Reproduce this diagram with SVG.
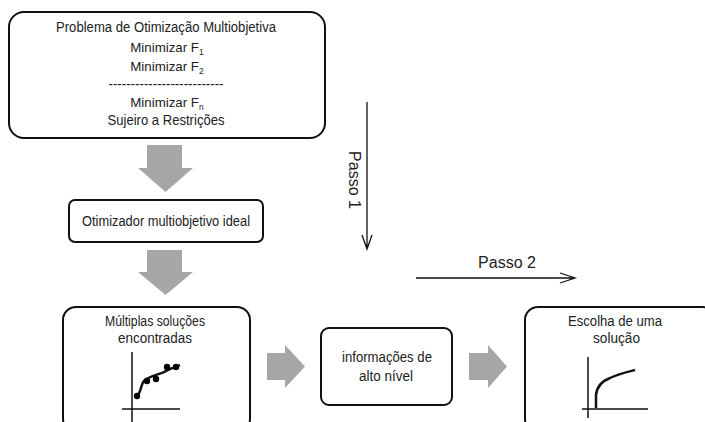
<svg xmlns="http://www.w3.org/2000/svg" width="705" height="422" viewBox="0 0 705 422">
<defs>
<style>
.box{fill:#fff;stroke:#111;stroke-width:2}
.t{font-family:"Liberation Sans",Arial,sans-serif;font-size:14px;fill:#222;text-anchor:middle}
.m{font-size:13.3px}
.big{font-size:16px}
.g{fill:#a6a6a6}
.ln{stroke:#111;stroke-width:1.3;fill:none}
.ax{stroke:#111;stroke-width:1.5;fill:none}
.cv{stroke:#111;stroke-width:2.5;fill:none}
</style>
</defs>
<rect width="705" height="422" fill="#fff"/>
<g id="problema">
<rect class="box" x="9" y="12" width="316" height="126" rx="15"/>
<text class="t" x="166" y="32" textLength="220" lengthAdjust="spacingAndGlyphs">Problema de Otimização Multiobjetiva</text>
<text class="t m" x="167" y="52">Minimizar F<tspan font-size="8.5" dy="3">1</tspan></text>
<text class="t m" x="167" y="71">Minimizar F<tspan font-size="8.5" dy="3">2</tspan></text>
<text class="t" x="166" y="89" textLength="115" lengthAdjust="spacingAndGlyphs">--------------------------</text>
<text class="t m" x="167" y="107">Minimizar F<tspan font-size="8.5" dy="3">n</tspan></text>
<text class="t" x="166" y="125" textLength="117" lengthAdjust="spacingAndGlyphs">Sujeiro a Restrições</text>
</g>
<g id="otimizador">
<rect class="box" x="69" y="200" width="194" height="42" rx="6"/>
<text class="t" x="166" y="226" textLength="168" lengthAdjust="spacingAndGlyphs">Otimizador multiobjetivo ideal</text>
</g>
<g id="multiplas">
<rect class="box" x="63" y="307" width="187" height="125" rx="13"/>
<text class="t" x="155" y="326" textLength="100" lengthAdjust="spacingAndGlyphs">Múltiplas soluções</text>
<text class="t" x="155" y="343" textLength="74" lengthAdjust="spacingAndGlyphs">encontradas</text>
<path class="ax" d="M132 352V422M122 409H180"/>
<path class="cv" d="M137 396C141 393 141 384 144 381C150 375 160 375 166 371C171 368 176 367 180 365"/>
<circle cx="137" cy="396" r="3.2"/>
<circle cx="147" cy="381" r="3.2"/>
<circle cx="156" cy="379" r="3.2"/>
<circle cx="167" cy="367" r="3.2"/>
<circle cx="176" cy="367" r="3.2"/>
</g>
<g id="informacoes">
<rect class="box" x="321" y="328" width="131" height="77" rx="8"/>
<text class="t" x="387" y="362" textLength="90" lengthAdjust="spacingAndGlyphs">informações de</text>
<text class="t" x="386" y="381" textLength="54" lengthAdjust="spacingAndGlyphs">alto nível</text>
</g>
<g id="escolha">
<rect class="box" x="525" y="307" width="190" height="125" rx="13"/>
<text class="t" x="615" y="326" textLength="94" lengthAdjust="spacingAndGlyphs">Escolha de uma</text>
<text class="t" x="616.5" y="343" textLength="47" lengthAdjust="spacingAndGlyphs">solução</text>
<path class="ax" d="M588 357V418M582 409H648"/>
<path class="cv" d="M596 408V395C597 386 602 381 610 378C618 374 627 372 635 370"/>
</g>
<g id="connectors">
<path class="g" d="M147 145H182V168H193L165.5 192L138 168H147Z"/>
<path class="g" d="M147 250H182V272H193L165.5 295L138 272H147Z"/>
<path class="g" d="M267 353H285V345L305 366.5L285 388V380H267Z"/>
<path class="g" d="M469 353H488V345L507 366.5L488 388V380H469Z"/>
<path class="ln" d="M367 102V249M362 235L367 249L372 235"/>
<path class="ln" d="M416 278H575M560 273L575 278L560 283"/>
<text class="t big" transform="translate(349 180) rotate(90)">Passo 1</text>
<text class="t big" x="507" y="268">Passo 2</text>
</g>
</svg>
